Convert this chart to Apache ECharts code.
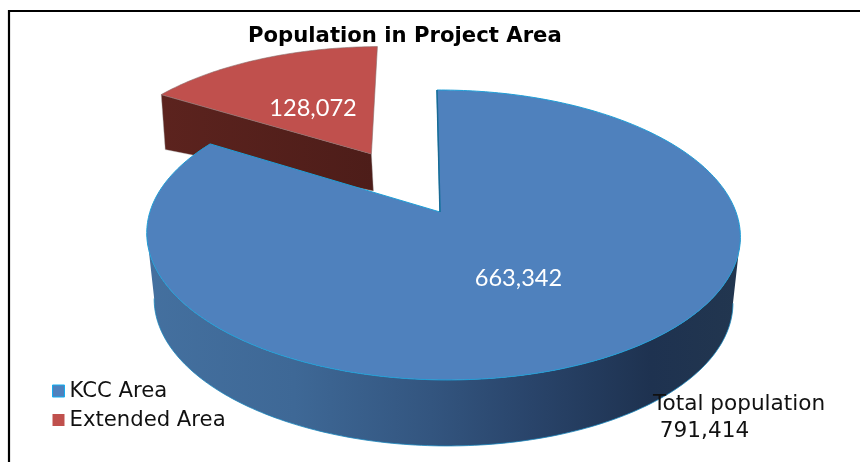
<!DOCTYPE html>
<html>
<head>
<meta charset="utf-8">
<style>html,body{margin:0;padding:0;background:#fff}#c{width:860px;height:462px}</style>
<script src="https://cdn.jsdelivr.net/npm/echarts@6/dist/echarts.min.js"></script>
</head>
<body>
<div id="c"></div>
<script>
const categories = ['KCC Area', 'Extended Area'];
const values = [663342, 128072];
const labels = ['663,342', '128,072'];
const titleText = 'Population in Project Area';
const totalText = 'Total population\n 791,414';
const topColors = ['#4f81bd', '#c0504d'];

const total = values[0] + values[1];
const TAU = Math.PI * 2;
// Perspective of the disc plane
const P = { x0: 440, y0: 212, B: 293, A: 141.3, k: 0.1586, m: 0.01, s: -3.5 };
const explode = 0.505;

function project(u, v) {
  const w = 1 + P.k * v - P.m * u;
  return [P.x0 + (P.B * u + P.s * v) / w, P.y0 - P.A * v / w];
}
function sliceAngles(i) {
  const before = values.slice(0, i).reduce((a, b) => a + b, 0);
  return [before / total * TAU, (before + values[i]) / total * TAU];
}
function offsetOf(i) {
  if (i === 0) return [0, 0];
  const [a, b] = sliceAngles(i), m = (a + b) / 2;
  return [Math.sin(m) * explode, Math.cos(m) * explode];
}
function rim(i) {
  const [a, b] = sliceAngles(i), o = offsetOf(i), pts = [];
  const n = Math.ceil((b - a) / TAU * 360);
  for (let j = 0; j <= n; j++) {
    const t = a + (b - a) * j / n;
    pts.push(project(o[0] + Math.sin(t), o[1] + Math.cos(t)));
  }
  return pts;
}
function labelPoint(i) {
  const [a, b] = sliceAngles(i), o = offsetOf(i), m = (a + b) / 2;
  return project(o[0] + Math.sin(m) * 0.5, o[1] + Math.cos(m) * 0.5);
}
const labelFont = '23.6px Lato, "Open Sans", sans-serif';

function renderBlue(params, api) {
  const i = 0, r = rim(i), apex = project(0, 0);
  const low = r.map(p => [443 + (p[0] - 443) * 0.975, p[1] + 66]);
  let jR = 0, jL = 0;
  r.forEach((p, j) => { if (p[0] > r[jR][0]) jR = j; if (p[0] < r[jL][0]) jL = j; });
  const topFront = r.slice(jR, jL + 1);
  const lowFront = low.slice(jR, jL + 1);
  const wallFill = new echarts.graphic.LinearGradient(146, 0, 740, 0, [
    { offset: 0, color: '#44709f' }, { offset: 0.25, color: '#3e6896' },
    { offset: 0.48, color: '#33557f' }, { offset: 0.65, color: '#29446a' },
    { offset: 0.85, color: '#1e3250' }, { offset: 1, color: '#22364f' }], true);
  return { type: 'group', children: [
    { type: 'polygon', shape: { points: topFront.concat(lowFront.slice().reverse()) },
      style: { fill: wallFill } },
    { type: 'polyline', shape: { points: lowFront }, style: { stroke: '#1b86bd', lineWidth: 0.8, fill: null } },
    { type: 'polygon', shape: { points: [apex].concat(r) },
      style: { fill: topColors[i], stroke: '#1f9ed6', lineWidth: 1 } },
    { type: 'polyline', shape: { points: [apex, r[0]] },
      style: { stroke: '#1a6a94', lineWidth: 1.5, fill: null } },
    { type: 'text', x: labelPoint(i)[0], y: labelPoint(i)[1],
      style: { text: labels[i], fill: '#fff', font: labelFont, align: 'center', verticalAlign: 'middle' } }
  ]};
}
function renderRed(params, api) {
  const i = 1, r = rim(i), o = offsetOf(i), apex = project(o[0], o[1]);
  const c = r[0];
  const wall = [c, apex, [apex[0] + 2, apex[1] + 37], [c[0] + 4, c[1] + 55]];
  return { type: 'group', children: [
    { type: 'polygon', shape: { points: wall },
      style: { fill: new echarts.graphic.LinearGradient(159, 0, 375, 0, [
        { offset: 0, color: '#5c231e' }, { offset: 1, color: '#4d1d19' }], true), stroke: '#a9a9a9', lineWidth: 0.4 } },
    { type: 'polygon', shape: { points: [apex].concat(r) },
      style: { fill: topColors[i], stroke: '#8a6a68', lineWidth: 0.6 } },
    { type: 'text', x: labelPoint(i)[0] + 1, y: labelPoint(i)[1] + 5,
      style: { text: labels[i], fill: '#fff', font: labelFont, align: 'center', verticalAlign: 'middle' } }
  ]};
}

const chart = echarts.init(document.getElementById('c'), null, { renderer: 'canvas' });
chart.setOption({
  backgroundColor: '#fff',
  animation: false,
  title: [
    { text: titleText, left: 248, top: 26, padding: 0,
      textStyle: { fontFamily: 'DejaVu Sans', fontWeight: 'bold', fontSize: 21.2, color: '#000' } },
    { text: totalText, left: 653, top: 391, padding: 0,
      textStyle: { fontFamily: 'DejaVu Sans', fontWeight: 'normal', fontSize: 21.6, lineHeight: 27, color: '#111' } }
  ],
  legend: {
    orient: 'vertical', left: 52, top: 379, padding: 0, itemGap: 5, itemWidth: 12, itemHeight: 12,
    selectedMode: false,
    textStyle: { fontFamily: 'DejaVu Sans', fontSize: 21.2, color: '#111', lineHeight: 24 },
    data: [
      { name: categories[0], icon: 'rect', itemStyle: { color: topColors[0], borderColor: '#12aef0', borderWidth: 1 } },
      { name: categories[1], icon: 'rect', itemStyle: { color: topColors[1], borderWidth: 0 } }
    ]
  },
  graphic: [{ type: 'polyline', shape: { points: [[9, 462], [9, 11], [860, 11]] },
    style: { stroke: '#000', lineWidth: 2.2, fill: null } }],
  series: [
    { type: 'custom', name: categories[0], coordinateSystem: 'none', z: 3, silent: true,
      itemStyle: { color: topColors[0] }, renderItem: renderBlue, data: [[values[0]]] },
    { type: 'custom', name: categories[1], coordinateSystem: 'none', z: 2, silent: true,
      itemStyle: { color: topColors[1] }, renderItem: renderRed, data: [[values[1]]] }
  ]
});
</script>
</body>
</html>
